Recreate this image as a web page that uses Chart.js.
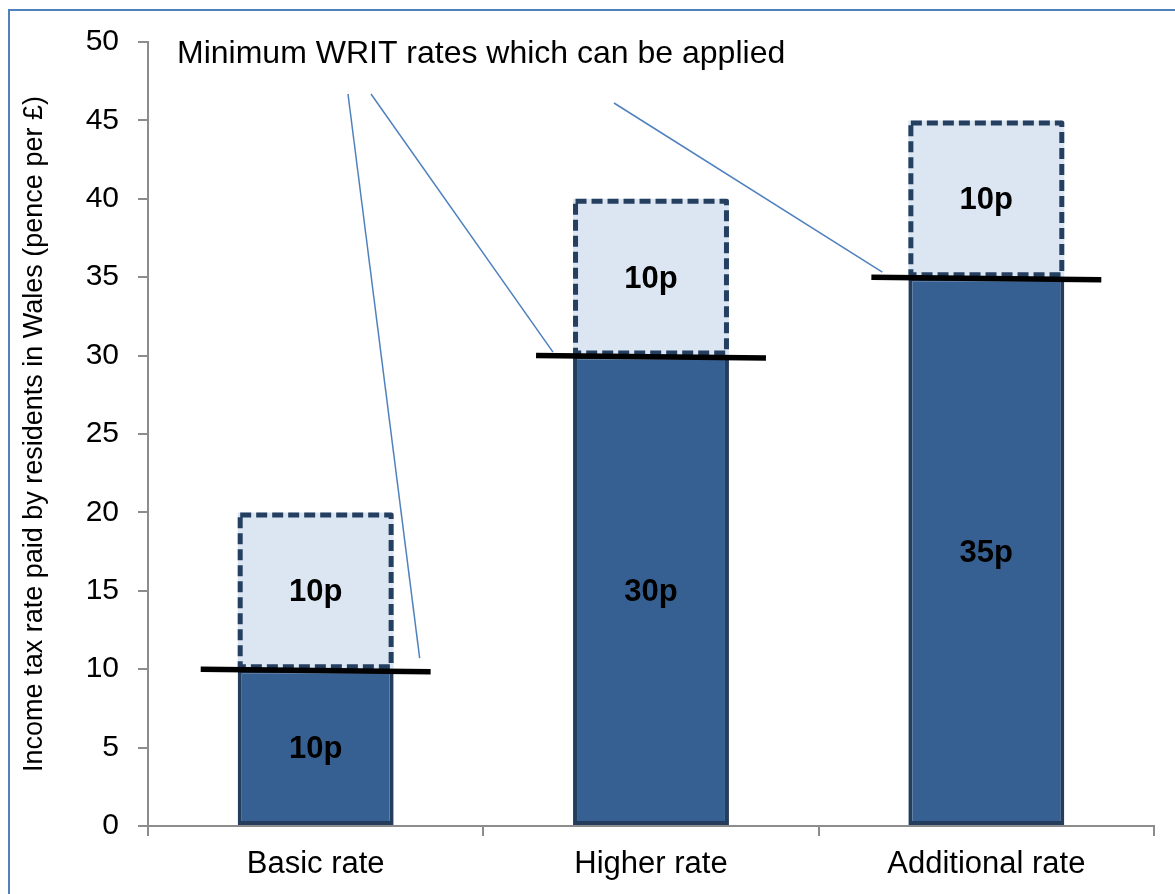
<!DOCTYPE html>
<html>
<head>
<meta charset="utf-8">
<script src="https://cdn.jsdelivr.net/npm/chart.js@4/dist/chart.umd.min.js"></script>
<style>
  html, body { margin: 0; padding: 0; background: #fff; }
  #wrap { width: 1175px; height: 894px; position: relative; }
</style>
</head>
<body>
<div id="wrap"><canvas id="c"></canvas></div>
<script>
const categories = ['Basic rate', 'Higher rate', 'Additional rate'];
// rate Wales must levy at least (UK rate minus 10p) and the 10p WRIT band on top
const minimumRates = [10, 30, 35];
const writBand = [10, 10, 10];
const yTicks = [0, 5, 10, 15, 20, 25, 30, 35, 40, 45, 50];
const calloutText = 'Minimum WRIT rates which can be applied';
const yTitle = 'Income tax rate paid by residents in Wales (pence per £)';

const FONT = '"Liberation Sans", Arial, sans-serif';

// outer frame: Excel chart border, only left + top visible in the crop
const framePlugin = {
  id: 'frame',
  beforeDraw(chart) {
    const ctx = chart.ctx;
    ctx.save();
    ctx.strokeStyle = '#4F81BD';
    ctx.lineWidth = 2;
    ctx.beginPath();
    ctx.moveTo(9, chart.height);
    ctx.lineTo(9, 10);
    ctx.lineTo(chart.width, 10);
    ctx.stroke();
    ctx.restore();
  },
};

// dashed outline round the WRIT band boxes (bar elements can't dash their border)
const dashedBoxes = {
  id: 'dashed-boxes',
  afterDatasetsDraw(chart) {
    const ctx = chart.ctx;
    const meta = chart.getDatasetMeta(1);
    ctx.save();
    ctx.strokeStyle = '#243F60';
    ctx.lineWidth = 5;
    ctx.lineJoin = 'round';
    ctx.setLineDash([11, 5]);
    meta.data.forEach(bar => {
      const { x, y, base, width } = bar.getProps(['x', 'y', 'base', 'width'], true);
      const left = x - width / 2, top = Math.min(y, base), h = Math.abs(base - y);
      ctx.strokeRect(left + 2.5, top + 2.5, width - 5, h - 5);
    });
    ctx.setLineDash([]);
    ctx.restore();
  },
};

// black bar marking the minimum rate, plus the callout text and its leader lines
const minimumMarks = {
  id: 'minimum-marks',
  afterDatasetsDraw(chart) {
    const ctx = chart.ctx;
    const ys = chart.scales.y;
    const area = chart.chartArea;
    const meta = chart.getDatasetMeta(0);
    const overhang = 37;

    ctx.save();
    ctx.strokeStyle = '#000';
    ctx.lineWidth = 5.5;
    meta.data.forEach((bar, i) => {
      const { x, width } = bar.getProps(['x', 'width'], true);
      const py = ys.getPixelForValue(minimumRates[i]);
      ctx.beginPath();
      ctx.moveTo(x - width / 2 - overhang, py);
      ctx.lineTo(x + width / 2 + overhang, py + 2.5);
      ctx.stroke();
    });

    // leader lines: start near the text, end at each minimum mark
    const leaders = [
      { sx: 200, sy: 52, dx: 104, dy: -11 },
      { sx: 223, sy: 52, dx: -98, dy: -3.5 },
      { sx: 466, sy: 61, dx: -104, dy: -5 },
    ];
    ctx.strokeStyle = '#4F81BD';
    ctx.lineWidth = 1.5;
    leaders.forEach((l, i) => {
      const bx = meta.data[i].x;
      const py = ys.getPixelForValue(minimumRates[i]);
      ctx.beginPath();
      ctx.moveTo(area.left + l.sx, area.top + l.sy);
      ctx.lineTo(bx + l.dx, py + l.dy);
      ctx.stroke();
    });

    ctx.fillStyle = '#000';
    ctx.font = '32px ' + FONT;
    ctx.textAlign = 'left';
    ctx.textBaseline = 'middle';
    ctx.fillText(calloutText, area.left + 29, area.top + 12);
    ctx.restore();
  },
};

const segmentLabels = {
  id: 'segment-labels',
  afterDatasetsDraw(chart) {
    const ctx = chart.ctx;
    ctx.save();
    ctx.font = 'bold 31px ' + FONT;
    ctx.fillStyle = '#000';
    ctx.textAlign = 'center';
    ctx.textBaseline = 'middle';
    [minimumRates, writBand].forEach((vals, d) => {
      chart.getDatasetMeta(d).data.forEach((bar, i) => {
        const { x, y, base } = bar.getProps(['x', 'y', 'base'], true);
        ctx.fillText(vals[i] + 'p', x, (y + base) / 2 + 2);
      });
    });
    ctx.restore();
  },
};

new Chart(document.getElementById('c'), {
  type: 'bar',
  data: {
    labels: categories,
    datasets: [
      {
        label: 'Minimum rate',
        data: minimumRates,
        backgroundColor: '#376092',
        borderColor: '#243D5C',
        borderWidth: 4,
        borderSkipped: false,
        barPercentage: 0.465,
        categoryPercentage: 1,
      },
      {
        label: 'WRIT band',
        data: writBand,
        backgroundColor: '#DCE6F2',
        borderWidth: 0,
        barPercentage: 0.465,
        categoryPercentage: 1,
      },
    ],
  },
  options: {
    responsive: true,
    maintainAspectRatio: false,
    animation: false,
    devicePixelRatio: 1,
    layout: { padding: { top: 42, right: 21, left: 0, bottom: 0 } },
    scales: {
      x: {
        stacked: true,
        afterFit: s => { s.height = 68; },
        grid: { drawOnChartArea: false, drawTicks: true, tickLength: 10, color: '#8c8c8c', lineWidth: 2 },
        border: { color: '#8c8c8c', width: 2 },
        ticks: { color: '#000', font: { family: FONT, size: 31 }, padding: 10 },
      },
      y: {
        stacked: true,
        min: 0,
        max: 50,
        afterFit: s => { s.width = 148; },
        afterBuildTicks: s => { s.ticks = yTicks.map(v => ({ value: v })); },
        grid: { drawOnChartArea: false, drawTicks: true, tickLength: 10, color: '#8c8c8c', lineWidth: 2 },
        border: { color: '#8c8c8c', width: 2 },
        ticks: { color: '#000', font: { family: FONT, size: 30 }, padding: 19 },
        title: { display: true, text: yTitle, color: '#000', font: { family: FONT, size: 27 }, padding: { top: 18, bottom: 0 } },
      },
    },
    plugins: {
      legend: { display: false },
      tooltip: { enabled: false },
    },
  },
  plugins: [framePlugin, dashedBoxes, minimumMarks, segmentLabels],
});
</script>
</body>
</html>
